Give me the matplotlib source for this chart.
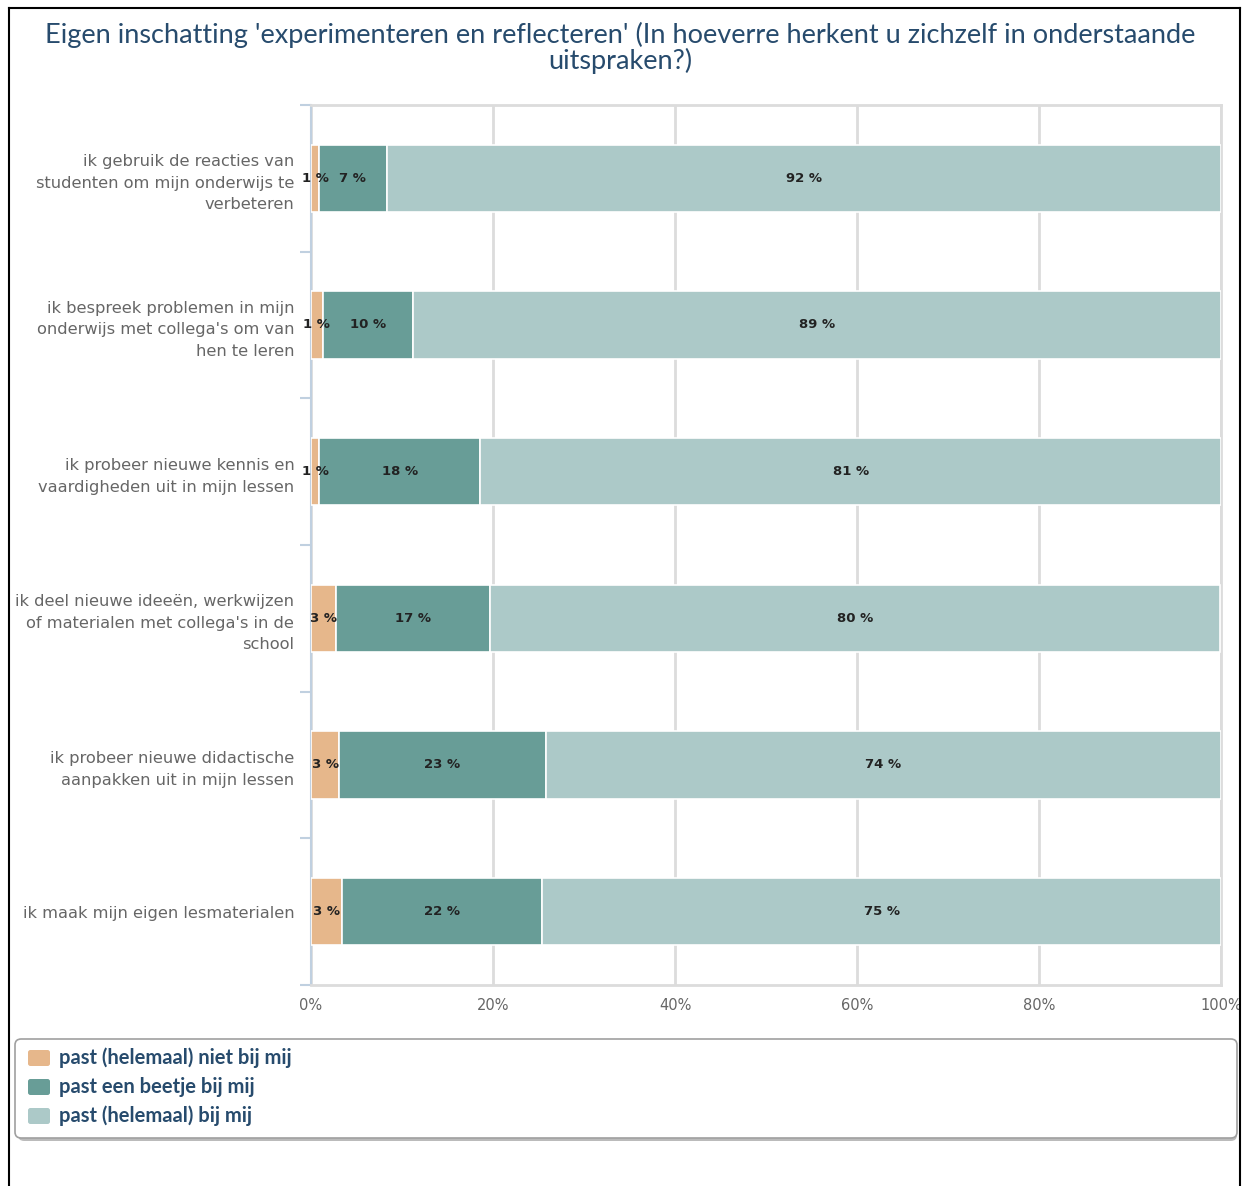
import matplotlib
matplotlib.use("Agg")
import matplotlib.pyplot as plt
from matplotlib.patches import FancyBboxPatch
from matplotlib.lines import Line2D
import numpy as np

W, H = 1242, 1186

categories = [
    "ik gebruik de reacties van\nstudenten om mijn onderwijs te\nverbeteren",
    "ik bespreek problemen in mijn\nonderwijs met collega's om van\nhen te leren",
    "ik probeer nieuwe kennis en\nvaardigheden uit in mijn lessen",
    "ik deel nieuwe ideeën, werkwijzen\nof materialen met collega's in de\nschool",
    "ik probeer nieuwe didactische\naanpakken uit in mijn lessen",
    "ik maak mijn eigen lesmaterialen",
]
series_names = ["past (helemaal) niet bij mij", "past een beetje bij mij", "past (helemaal) bij mij"]
niet_bij_mij = [0.9, 1.3, 0.9, 2.7, 3.1, 3.4]
beetje = [7.4, 9.9, 17.7, 17.0, 22.7, 22.0]
bij_mij = [91.7, 88.8, 81.4, 80.2, 74.2, 74.6]
xticks = [0, 20, 40, 60, 80, 100]

colors = ["#e6b78b", "#689d97", "#acc9c8"]
title_col = "#274b6d"


def fx(x):
    return x / W


def fy(y):
    return 1 - y / H


fig = plt.figure(figsize=(W / 100, H / 100), dpi=100)

# outer frame of the screenshot
for xs, ys in [((9, 9), (8, H)), ((1240, 1240), (8, H)), ((9, 1240), (8, 8))]:
    fig.add_artist(Line2D([fx(x) for x in xs], [fy(y) for y in ys], color="black", lw=1.5))

fig.text(fx(620), fy(35), "Eigen inschatting 'experimenteren en reflecteren' (In hoeverre herkent u zichzelf in onderstaande",
         ha="center", va="center", fontsize=19.5, color=title_col, family="Lato")
fig.text(fx(620), fy(61), "uitspraken?)", ha="center", va="center", fontsize=19.5,
         color=title_col, family="Lato")

left, right, top, bottom = 311, 1221, 105, 985
ax = fig.add_axes([fx(left), fy(bottom), (right - left) / W, (bottom - top) / H])

ypos = np.arange(len(categories))
data = [niet_bij_mij, beetje, bij_mij]
start = np.zeros(len(categories))
for vals, col, name in zip(data, colors, series_names):
    vals = np.array(vals)
    ax.barh(ypos, vals, left=start, height=0.46, color=col, edgecolor="white", linewidth=1.2,
            label=name, zorder=3)
    for y, v, s in zip(ypos, vals, start):
        ax.text(s + v / 2, y, "%d %%" % round(v), ha="center", va="center", fontsize=9.5,
                color="#222222", fontweight="semibold", zorder=4)
    start = start + vals

ax.set_xlim(0, 100)
ax.set_ylim(len(categories) - 0.5, -0.5)
ax.set_xticks(xticks)
ax.set_xticklabels(["%d%%" % t for t in xticks], color="#666666", fontsize=10.5)
ax.tick_params(axis="x", length=0, pad=9)
ax.grid(axis="x", color="#dcdcdc", lw=2, zorder=0)

ax.set_yticks(ypos)
ax.set_yticklabels(categories, color="#666666", fontsize=11.7, linespacing=1.55)
ax.tick_params(axis="y", which="major", length=0, pad=12)
ax.set_yticks(np.arange(-0.5, len(categories)), minor=True)
ax.tick_params(axis="y", which="minor", length=8, color="#c0d0e0", width=1.5)

for side in ["top", "right", "bottom"]:
    ax.spines[side].set_color("#dcdcdc")
    ax.spines[side].set_linewidth(2)
ax.spines["left"].set_color("#c0d0e0")
ax.spines["left"].set_linewidth(1.5)

# legend box with shadow
shadow = FancyBboxPatch((fx(18), fy(1141)), fx(1219), (1141 - 1041) / H,
                        boxstyle="round,pad=0,rounding_size=0.005", transform=fig.transFigure,
                        facecolor="#bbbbbb", edgecolor="none")
fig.add_artist(shadow)
box = FancyBboxPatch((fx(15), fy(1138)), fx(1222), (1138 - 1039) / H,
                     boxstyle="round,pad=0,rounding_size=0.005", transform=fig.transFigure,
                     facecolor="white", edgecolor="#a0a0a0", lw=1.2)
fig.add_artist(box)
for i, (name, col) in enumerate(zip(series_names, colors)):
    yc = 1058 + i * 29
    fig.add_artist(FancyBboxPatch((fx(28), fy(yc + 8)), fx(22), 16 / H,
                                  boxstyle="round,pad=0,rounding_size=0.002",
                                  transform=fig.transFigure, facecolor=col, edgecolor="none"))
    fig.text(fx(59), fy(yc), name, ha="left", va="center", fontsize=14.5, color=title_col,
             family="Lato", fontweight="bold")

fig.savefig("out.png", dpi=100)
